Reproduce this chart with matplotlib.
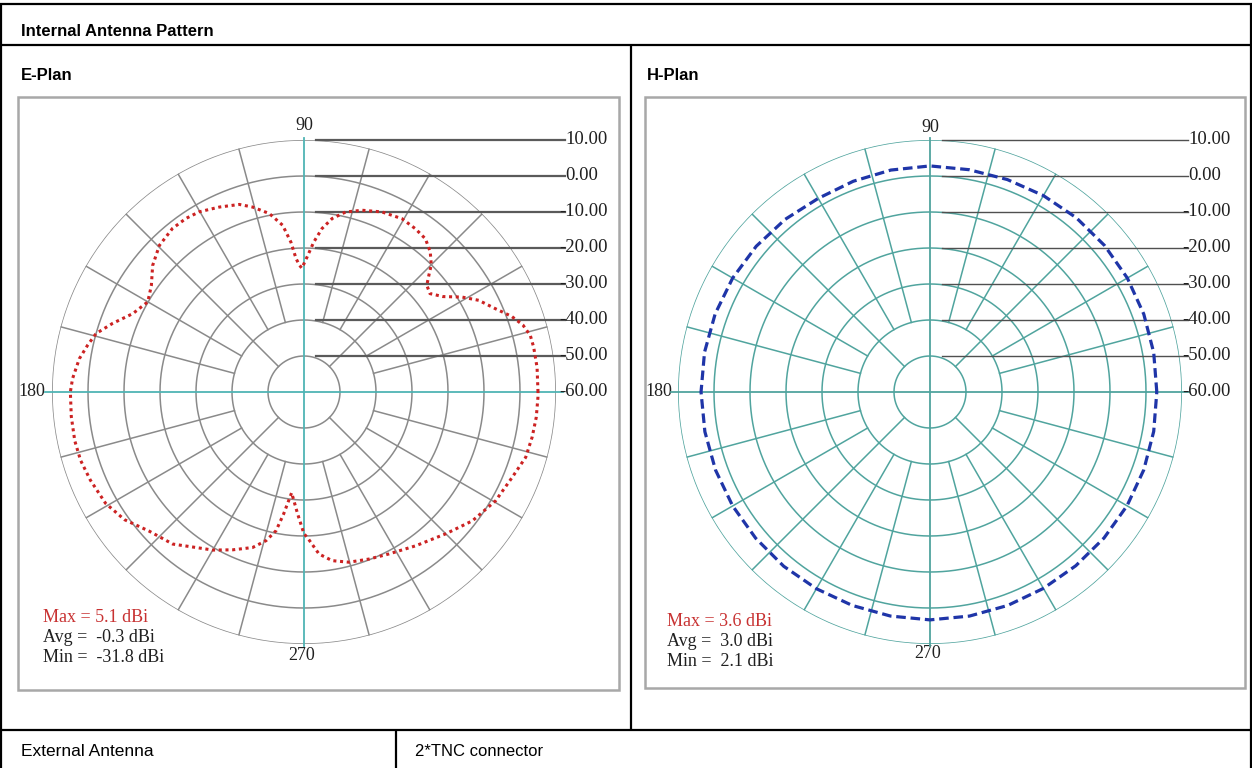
import numpy as np
import matplotlib.pyplot as plt
from matplotlib.patches import Rectangle

W, H = 1252, 768

# E-plane pattern (deg, dBi)
e_angle = [0, 6, 11, 14, 17, 20, 23.5, 27.7, 31, 34.5, 38, 41, 43, 45, 48, 51.6,
           55.7, 60.5, 66.6, 72.3, 77, 80.8, 83.7, 86.3, 88.7, 91, 92, 93.4, 95,
           97.3, 101, 105.5, 109, 114.6, 120.2, 124.2, 128.8, 134.6, 140.1, 145.1,
           150, 155.4, 160.3, 164.3, 167.8, 171.6, 176.7, 180, 186, 192, 197,
           202.4, 209.3, 215.4, 222, 229.2, 235.2, 240, 245.7, 251.7, 255.7,
           258.6, 260.5, 263, 267, 270, 271.3, 275.3, 279.5, 284.8, 291.3, 297.7,
           306, 315, 322.6, 330.4, 337.7, 343.6, 348.8, 353.8, 358.7]
e_gain = [5.0, 5.1, 5.0, 4.8, 3.6, 1.4, -2.0, -5.2, -8.8, -13.2, -15.6, -14.8,
          -12.6, -10.0, -7.6, -5.7, -5.1, -4.7, -5.5, -7.0, -8.7, -11.2, -14.3,
          -18.3, -22.5, -25.6, -24.8, -22.9, -18.2, -13.3, -9.5, -6.7, -4.9, -3.5,
          -2.1, -1.7, -1.7, -2.8, -5.2, -8.3, -9.9, -7.7, -3.5, 0.0, 1.5, 3.1, 4.4,
          4.9, 5.0, 5.1, 4.9, 4.2, 3.2, 1.2, -2.2, -4.2, -7.4, -9.3, -11.9, -14.5,
          -17.4, -20.7, -25.6, -31.8, -26.1, -20.6, -19.6, -14.8, -12.5, -11.1,
          -10.2, -9.2, -7.2, -4.3, -1.1, 1.2, 2.5, 4.2, 4.6, 4.9, 5.0]

# H-plane pattern (deg, dBi)
h_angle = [0, 10, 20, 30, 40, 50, 60, 70, 80, 90, 100, 110, 120, 130, 140, 150,
           160, 170, 180, 190, 200, 210, 220, 230, 240, 250, 260, 270, 280, 290,
           300, 310, 320, 330, 340, 350]
h_gain = [3.0, 3.1, 3.2, 3.3, 3.3, 3.2, 3.0, 2.8, 2.7, 2.8, 2.6, 2.3, 2.1, 2.6,
          3.0, 3.3, 3.5, 3.6, 3.6, 3.5, 3.4, 3.3, 3.2, 3.2, 3.1, 3.1, 3.2, 3.3,
          3.2, 3.1, 3.0, 3.0, 3.1, 3.2, 3.2, 3.1]

ring_levels = [10, 0, -10, -20, -30, -40, -50, -60]
ring_labels = ['10.00', '0.00', '-10.00', '-20.00', '-30.00', '-40.00', '-50.00', '-60.00']

e_stats = ['Max = 5.1 dBi', 'Avg =  -0.3 dBi', 'Min =  -31.8 dBi']
h_stats = ['Max = 3.6 dBi', 'Avg =  3.0 dBi', 'Min =  2.1 dBi']

SANS = 'Liberation Sans'
SERIF = 'Liberation Serif'

fig = plt.figure(figsize=(W / 100, H / 100), dpi=100)
bg = fig.add_axes([0, 0, 1, 1])
bg.set_xlim(0, W)
bg.set_ylim(H, 0)
bg.axis('off')

# table lines
k = dict(color='black', lw=1.6, solid_capstyle='butt')
bg.plot([1, 1], [4, H], **k)
bg.plot([W - 1, W - 1], [4, H], **k)
bg.plot([0, W], [4, 4], **k)
bg.plot([0, W], [45, 45], **k)
bg.plot([631, 631], [45, 730], **k)
bg.plot([0, W], [730, 730], **k)
bg.plot([396, 396], [730, H], **k)

bg.text(21, 31, 'Internal Antenna Pattern', fontsize=12, fontweight='bold',
        family=SANS, va='center')
bg.text(21, 75, 'E-Plan', fontsize=12, fontweight='bold', family=SANS, va='center')
bg.text(647, 75, 'H-Plan', fontsize=12, fontweight='bold', family=SANS, va='center')
bg.text(21, 751, 'External Antenna', fontsize=12.5, family=SANS, va='center')
bg.text(415, 751, '2*TNC connector', fontsize=12, family=SANS, va='center')

# chart frames
bg.add_patch(Rectangle((18, 97), 601, 593, fc='white', ec='#a8a8a8', lw=1.8))
bg.add_patch(Rectangle((645, 97), 600, 591, fc='white', ec='#a8a8a8', lw=1.8))


def panel(cx, cy, ang, gain, grid_col, axis_col, lead_col, lead_lw, line_kw,
          stats, lab_x, stat_x, stat_y, top_y, bot_y, left_x):
    R = 252
    ax = fig.add_axes([(cx - R) / W, 1 - (cy + R) / H, 2 * R / W, 2 * R / H],
                      projection='polar')
    ax.set_rlim(-60, 10)
    ax.set_xticks([])
    ax.set_yticks([])
    ax.grid(False)
    ax.spines['polar'].set_visible(False)
    ax.patch.set_alpha(0)

    th = np.linspace(0, 2 * np.pi, 721)
    for lv in ring_levels[:-1]:
        ax.plot(th, np.full_like(th, lv), color=grid_col, lw=1.1)
    for a in range(0, 360, 15):
        t = np.radians(a)
        if a % 90 == 0:
            rmax = 12 if a % 180 == 0 else 10.5
            ax.plot([t, t], [-60, rmax], color=axis_col, lw=1.3, clip_on=False)
        else:
            r0 = -50 if a % 45 == 0 else -40
            ax.plot([t, t], [r0, 10], color=grid_col, lw=1.1)

    # scale leader lines and labels
    x_end = (lab_x - (cx - R)) / (2 * R)
    for lv, lab in zip(ring_levels, ring_labels):
        y = 0.5 + (lv + 60) / 140
        if lv > -60:
            ax.plot([0.5 + 12 / (2 * R), x_end + 0.004], [y, y],
                    transform=ax.transAxes, color=lead_col, lw=lead_lw,
                    clip_on=False)
        dx = -0.008 if lab.startswith('-') else 0.004
        ax.text(x_end + dx, y, lab, transform=ax.transAxes, ha='left', va='center',
                family=SERIF, fontsize=13.5, color='#202020')

    t = np.radians(list(ang) + [ang[0] + 360])
    g = list(gain) + [gain[0]]
    ax.plot(t, g, **line_kw)

    bg.text(cx, top_y, '90', ha='center', va='center', family=SERIF, fontsize=13,
            color='#202020')
    bg.text(left_x, cy, '180', ha='left', va='center', family=SERIF, fontsize=13,
            color='#202020')
    bg.text(cx - 2, bot_y, '270', ha='center', va='center', family=SERIF,
            fontsize=13, color='#202020')
    cols = ['#c83232', '#202020', '#202020']
    for i, (s, c) in enumerate(zip(stats, cols)):
        bg.text(stat_x, stat_y + 20 * i, s, ha='left', va='center', family=SERIF,
                fontsize=13, color=c)


panel(304, 392, e_angle, e_gain, '#8a8a8a', '#4fb4b4', '#5a5a5a', 1.6,
      dict(color='#cc2222', lw=2.2, linestyle=(0, (1.0, 1.2))),
      e_stats, 563, 43, 618, 125, 655, 18)
panel(930, 392, h_angle, h_gain, '#50a49e', '#50a49e', '#505050', 1.0,
      dict(color='#1f35a8', lw=2.3, linestyle=(0, (3.0, 1.5))),
      h_stats, 1186, 667, 622, 127, 654, 645)

fig.savefig('out.png', dpi=100)
